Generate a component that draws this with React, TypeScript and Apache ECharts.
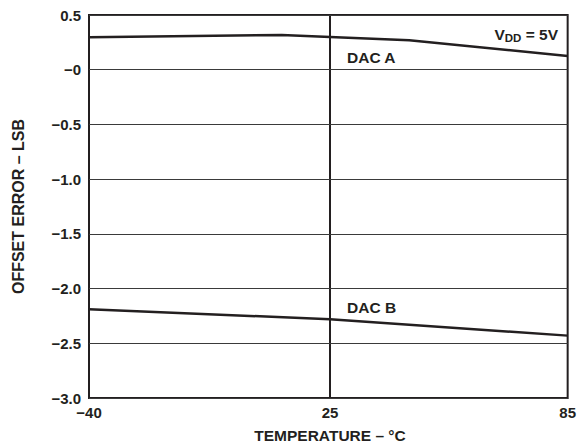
import React, { useEffect, useRef } from "react";
import * as echarts from "echarts";

const tempsA = [-40, 12, 25, 45, 85];
const offsetA = [0.296, 0.318, 0.3, 0.27, 0.125];
const tempsB = [-40, 25, 85];
const offsetB = [-2.19, -2.28, -2.43];
const xTicksLeft = [-40];
const xTicksRight = [25, 85];
const yMin = -3.0;
const yMax = 0.5;
const yStep = 0.5;

const INK = "#231f20";
const FONT = "'Liberation Sans', Arial, Helvetica, sans-serif";

function splitAt(temps: number[], vals: number[], pivot: number, left: boolean) {
  const out: number[][] = [];
  temps.forEach((t, i) => {
    if (left ? t <= pivot : t >= pivot) out.push([t, vals[i]]);
  });
  return out;
}

function fmtY(v: number) {
  if (v === 0) return "\u22120";
  if (v < 0) return "\u2212" + Math.abs(v).toFixed(1);
  return v.toFixed(1);
}

export default function App() {
  const ref = useRef<HTMLDivElement>(null);
  useEffect(() => {
    if (!ref.current) return;
    const chart = echarts.init(ref.current, undefined, { renderer: "svg" });
    const lineStyle = { color: INK, width: 2.5 };
    const gridCommon = { top: 15, height: 383, show: true, borderColor: INK, borderWidth: 2, backgroundColor: "transparent" };
    const yCommon = {
      type: "value" as const,
      min: yMin,
      max: yMax,
      interval: yStep,
      axisLine: { show: false },
      axisTick: { show: false },
      splitLine: { show: true, lineStyle: { color: "#3a3a3a", width: 1 } },
    };
    const xCommon = {
      type: "value" as const,
      axisLine: { show: false },
      axisTick: { show: false },
      splitLine: { show: false },
    };
    const labelStyle = { color: INK, fontFamily: FONT, fontWeight: "bold" as const, fontSize: 15 };
    chart.setOption({
      animation: false,
      grid: [
        { ...gridCommon, left: 89, width: 241 },
        { ...gridCommon, left: 330, width: 239 },
      ],
      xAxis: [
        {
          ...xCommon,
          gridIndex: 0,
          min: -40,
          max: 25,
          axisLabel: { ...labelStyle, margin: 7, customValues: xTicksLeft, formatter: (v: number) => (v < 0 ? "\u2212" + Math.abs(v) : String(v)) },
        },
        {
          ...xCommon,
          gridIndex: 1,
          min: 25,
          max: 85,
          axisLabel: { ...labelStyle, margin: 7, customValues: xTicksRight, formatter: (v: number) => String(v) },
        },
      ],
      yAxis: [
        {
          ...yCommon,
          gridIndex: 0,
          name: "OFFSET ERROR \u2013 LSB",
          nameLocation: "middle",
          nameGap: 63,
          nameTextStyle: { ...labelStyle, fontSize: 16 },
          axisLabel: { ...labelStyle, margin: 8, formatter: fmtY },
        },
        { ...yCommon, gridIndex: 1, axisLabel: { show: false } },
      ],
      series: [
        { type: "line", xAxisIndex: 0, yAxisIndex: 0, data: splitAt(tempsA, offsetA, 25, true), showSymbol: false, lineStyle },
        { type: "line", xAxisIndex: 1, yAxisIndex: 1, data: splitAt(tempsA, offsetA, 25, false), showSymbol: false, lineStyle },
        { type: "line", xAxisIndex: 0, yAxisIndex: 0, data: splitAt(tempsB, offsetB, 25, true), showSymbol: false, lineStyle },
        { type: "line", xAxisIndex: 1, yAxisIndex: 1, data: splitAt(tempsB, offsetB, 25, false), showSymbol: false, lineStyle },
      ],
      graphic: [
        {
          type: "text",
          x: 330,
          y: 435,
          style: { text: "TEMPERATURE \u2013 \u00b0C", fill: INK, font: `bold 15.5px ${FONT}`, align: "center", verticalAlign: "middle" },
        },
        {
          type: "text",
          x: 347,
          y: 57,
          style: { text: "DAC A", fill: INK, font: `bold 15.5px ${FONT}`, align: "left", verticalAlign: "middle" },
        },
        {
          type: "text",
          x: 347,
          y: 307,
          style: { text: "DAC B", fill: INK, font: `bold 15.5px ${FONT}`, align: "left", verticalAlign: "middle" },
        },
        {
          type: "text",
          x: 558,
          y: 34,
          style: {
            text: "{v|V}{s|DD}{v| = 5V}",
            align: "right",
            verticalAlign: "middle",
            rich: {
              v: { fill: INK, fontFamily: FONT, fontWeight: "bold", fontSize: 15.5, verticalAlign: "middle" },
              s: { fill: INK, fontFamily: FONT, fontWeight: "bold", fontSize: 11.5, verticalAlign: "bottom", padding: [7, 0, 0, 0] },
            },
          },
        },
      ],
    });
    return () => chart.dispose();
  }, []);
  return <div ref={ref} style={{ width: 579, height: 444, position: "absolute", left: 0, top: 0 }} />;
}
